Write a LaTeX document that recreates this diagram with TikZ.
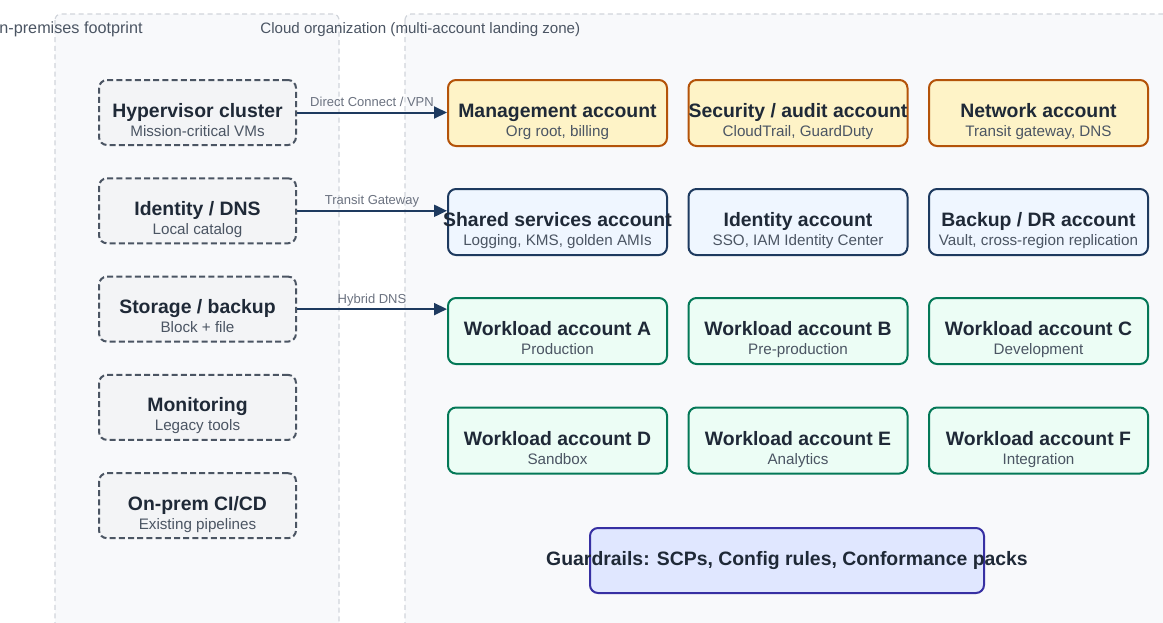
\documentclass[tikz,border=0pt]{standalone}
\usepackage{fontspec}
\setmainfont{Liberation Sans}
\usetikzlibrary{arrows.meta}
\definecolor{ink}{HTML}{1F2937}
\definecolor{subink}{HTML}{4B5563}
\definecolor{zoneline}{HTML}{D1D5DB}
\definecolor{zonefill}{HTML}{F8F9FB}
\definecolor{legacyline}{HTML}{4B5563}
\definecolor{legacyfill}{HTML}{F3F4F6}
\definecolor{coreline}{HTML}{B45309}
\definecolor{corefill}{HTML}{FEF3C7}
\definecolor{sharedline}{HTML}{1E3A5F}
\definecolor{sharedfill}{HTML}{EFF6FF}
\definecolor{workline}{HTML}{047857}
\definecolor{workfill}{HTML}{ECFDF5}
\definecolor{guardline}{HTML}{3730A3}
\definecolor{guardfill}{HTML}{E0E7FF}
\definecolor{linkcol}{HTML}{1E3A5F}
\definecolor{linktext}{HTML}{6B7280}

% title + subtitle, centred and allowed to run past the box
\newcommand{\acct}[2]{%
  \makebox[0pt]{\rule{0pt}{17pt}\color{ink}\bfseries #1}\\
  \makebox[0pt]{\rule[-3pt]{0pt}{3pt}\color{subink}\fontsize{7.6}{9.5}\selectfont #2}}

\begin{document}
\begin{tikzpicture}[x=0.5pt,y=-0.5pt,
    zone/.style={draw=zoneline,fill=zonefill,line width=0.6pt,dash pattern=on 2.5pt off 1.8pt,rounded corners=3pt},
    zonelabel/.style={text=subink,font=\fontsize{7.55}{9}\selectfont,inner sep=0pt},
    box/.style={line width=1pt,rounded corners=4pt,inner sep=0pt,align=center,font=\fontsize{9.7}{9.5}\selectfont},
    onprem/.style={box,draw=legacyline,fill=legacyfill,dash pattern=on 3pt off 1.6pt,minimum width=98.5pt,minimum height=32.5pt},
    account/.style={box,minimum width=109.5pt,minimum height=33pt},
    core/.style={account,draw=coreline,fill=corefill},
    shared/.style={account,draw=sharedline,fill=sharedfill},
    workload/.style={account,draw=workline,fill=workfill},
    guard/.style={box,draw=guardline,fill=guardfill,text=ink,minimum width=197pt,minimum height=32.5pt,text height=7pt,text depth=2.5pt},
    link/.style={draw=linkcol,line width=1pt,-{Triangle[length=6.5pt,width=6pt]}},
    linklabel/.style={text=linktext,font=\fontsize{6.5}{8}\selectfont,anchor=base,yshift=3pt,inner sep=0pt}]

    \useasboundingbox (0,0) rectangle (1163,622);
    \fill[white] (0,0) rectangle (1163,622);

    % the two zones
    \draw[zone] (55,14) rectangle (339,650);
    \draw[zone] (405,14) rectangle (1200,650);
    \node[zonelabel,font=\fontsize{8.1}{9}\selectfont,anchor=base east] (premlabel) at (143,33.5) {On-premises footprint};
    \node[zonelabel,anchor=base west] (cloudlabel) at (260,33.5) {Cloud organization (multi-account landing zone)};

    % on-premises footprint
    \node[onprem] (hyp) at (197.5,112.5) {\acct{Hypervisor cluster}{Mission-critical VMs}};
    \node[onprem] (idp) at (197.5,210.8) {\acct{Identity / DNS}{Local catalog}};
    \node[onprem] (stor) at (197.5,309.1) {\acct{Storage / backup}{Block + file}};
    \node[onprem] (mon) at (197.5,407.4) {\acct{Monitoring}{Legacy tools}};
    \node[onprem] (cicd) at (197.5,505.7) {\acct{On-prem CI/CD}{Existing pipelines}};

    % core accounts
    \node[core] (mgmt) at (557.5,113) {\acct{Management account}{Org root, billing}};
    \node[core] (sec) at (798,113) {\acct{Security / audit account}{CloudTrail, GuardDuty}};
    \node[core] (net) at (1038.5,113) {\acct{Network account}{Transit gateway, DNS}};

    % shared accounts
    \node[shared] (svc) at (557.5,222) {\acct{Shared services account}{Logging, KMS, golden AMIs}};
    \node[shared] (iam) at (798,222) {\acct{Identity account}{SSO, IAM Identity Center}};
    \node[shared] (dr) at (1038.5,222) {\acct{Backup / DR account}{Vault, cross-region replication}};

    % workloads
    \node[workload] (wa) at (557.5,331) {\acct{Workload account A}{Production}};
    \node[workload] (wb) at (798,331) {\acct{Workload account B}{Pre-production}};
    \node[workload] (wc) at (1038.5,331) {\acct{Workload account C}{Development}};
    \node[workload] (wd) at (557.5,440.5) {\acct{Workload account D}{Sandbox}};
    \node[workload] (we) at (798,440.5) {\acct{Workload account E}{Analytics}};
    \node[workload] (wf) at (1038.5,440.5) {\acct{Workload account F}{Integration}};

    % guardrails
    \node[guard] (rails) at (787,560.5) {\makebox[0pt]{\bfseries Guardrails: SCPs, Config rules, Conformance packs}};

    % hybrid links
    \draw[link] (hyp.east) -- node[linklabel] {Direct Connect / VPN} (hyp.east -| mgmt.west);
    \draw[link] (idp.east) -- node[linklabel] {Transit Gateway} (idp.east -| svc.west);
    \draw[link] (stor.east) -- node[linklabel] {Hybrid DNS} (stor.east -| wa.west);
\end{tikzpicture}
\end{document}
